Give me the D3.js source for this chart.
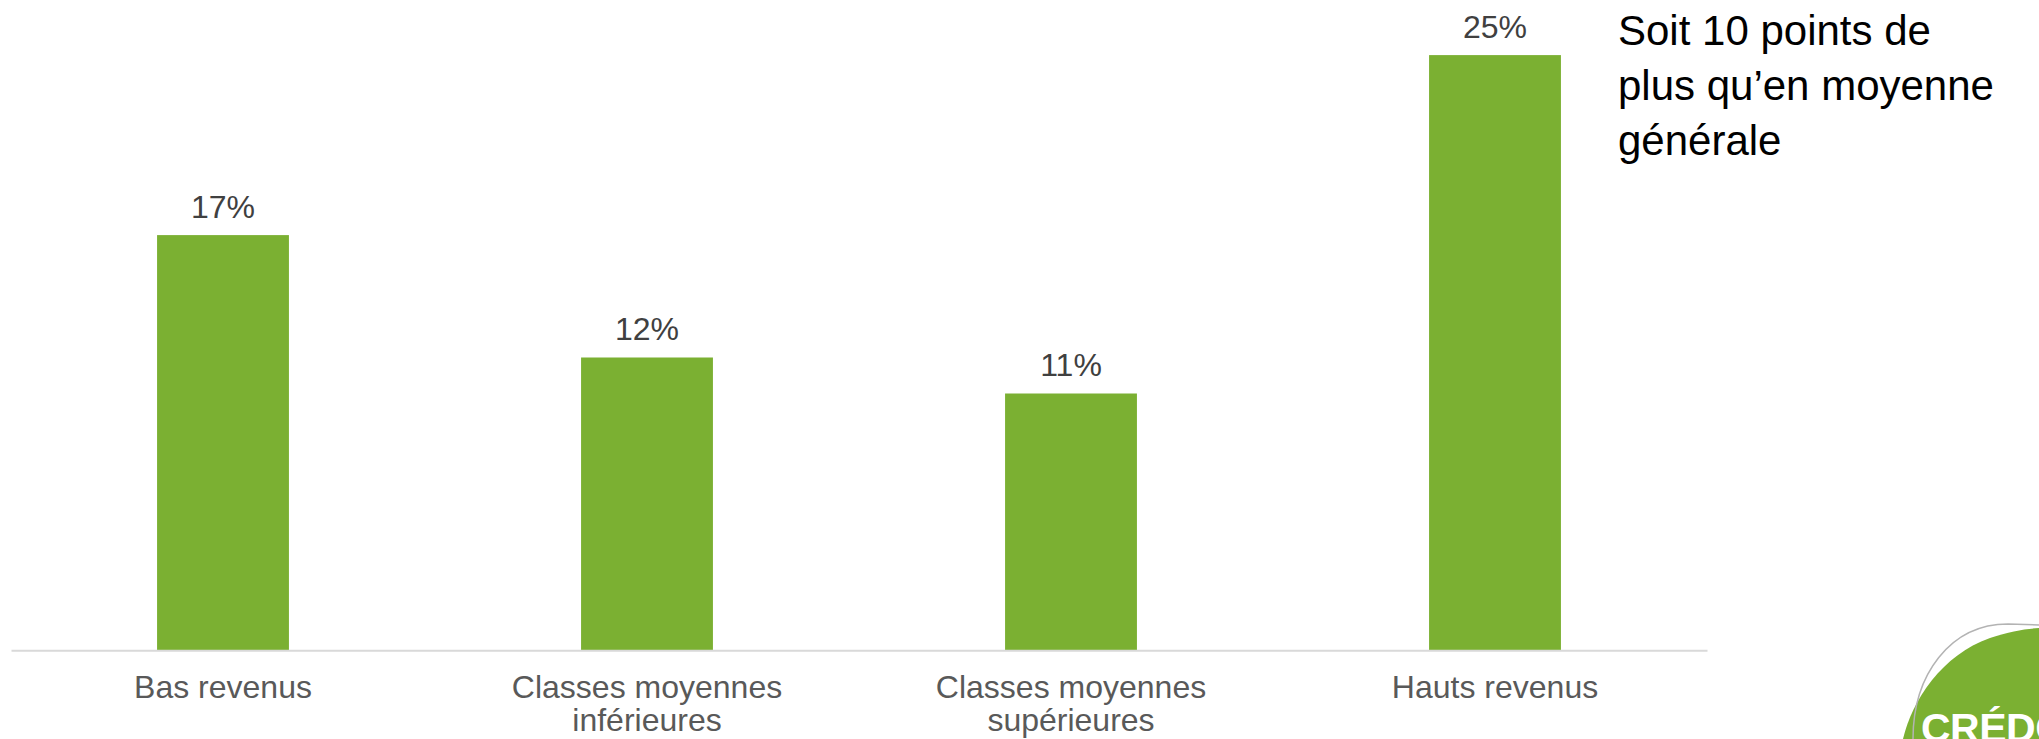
<!DOCTYPE html>
<html lang="fr">
<head>
<meta charset="UTF-8">
<title>Revenus</title>
<script src="https://d3js.org/d3.v7.min.js"></script>
<style>
  body { margin: 0; background: #fff; }
  svg { display: block; }
  text { font-family: "Liberation Sans", Arial, sans-serif; }
  .domain { stroke: #d9d9d9; stroke-width: 2; }
</style>
</head>
<body>
<svg width="2039" height="739"></svg>
<script>
// data
const categories = ["Bas revenus", "Classes moyennes inférieures", "Classes moyennes supérieures", "Hauts revenus"];
const catLines = [["Bas revenus"], ["Classes moyennes", "inférieures"], ["Classes moyennes", "supérieures"], ["Hauts revenus"]];
const values = [17.3, 12.2, 10.7, 24.8];
const valueLabels = ["17%", "12%", "11%", "25%"];
const note = ["Soit 10 points de", "plus qu’en moyenne", "générale"];

var svg = d3.select("svg"),
    width = +svg.attr("width"),
    height = +svg.attr("height");

var baseY = 650.3;

var x = d3.scaleBand()
    .domain(categories)
    .range([11, 1707])
    .paddingInner(0.689)
    .paddingOuter(0.3445);

var y = d3.scaleLinear()
    .domain([0, 25])
    .range([baseY, baseY - 600]);

// bars
svg.append("g")
  .selectAll("rect")
  .data(values)
  .enter().append("rect")
    .attr("x", function(d, i) { return x(categories[i]); })
    .attr("y", function(d) { return y(d); })
    .attr("width", x.bandwidth())
    .attr("height", function(d) { return baseY - y(d); })
    .attr("fill", "#7bb032");

// value labels
svg.append("g")
  .selectAll("text")
  .data(values)
  .enter().append("text")
    .attr("x", function(d, i) { return x(categories[i]) + x.bandwidth() / 2; })
    .attr("y", function(d) { return y(d) - 17.5; })
    .attr("text-anchor", "middle")
    .attr("font-size", 32)
    .attr("fill", "#404040")
    .text(function(d, i) { return valueLabels[i]; });

// x axis, labels wrapped on two lines
var axis = svg.append("g")
    .attr("transform", "translate(0," + baseY + ")")
    .call(d3.axisBottom(x).tickSize(0).tickSizeOuter(0));

axis.selectAll(".tick text").remove();
axis.selectAll(".tick").each(function(d, i) {
  var t = d3.select(this).append("text")
      .attr("text-anchor", "middle")
      .attr("font-size", 32)
      .attr("fill", "#595959")
      .attr("y", 48);
  catLines[i].forEach(function(line, j) {
    t.append("tspan")
      .attr("x", 0)
      .attr("dy", j == 0 ? 0 : 33)
      .text(line);
  });
});

// annotation on the right
var ann = svg.append("text")
    .attr("x", 1618)
    .attr("y", 45)
    .attr("font-size", 42)
    .attr("fill", "#000");
note.forEach(function(line, j) {
  ann.append("tspan")
    .attr("x", 1618)
    .attr("dy", j == 0 ? 0 : 55)
    .text(line);
});

// CREDOC logo, cut by the page corner
var logo = svg.append("g");
logo.append("path")
    .attr("d", "M1903,739 C1912,700 1942,655 1990,638 C2010,631 2025,629 2039,628 L2039,739 Z")
    .attr("fill", "#7bb032");
logo.append("path")
    .attr("d", "M1913,739 C1913,675 1950,624 2008,624 L2039,625")
    .attr("fill", "none")
    .attr("stroke", "#b3b3b3")
    .attr("stroke-width", 1.5);
logo.append("text")
    .attr("x", 1921)
    .attr("y", 742)
    .attr("font-family", "'Open Sans', sans-serif")
    .attr("font-weight", "bold")
    .attr("font-size", 41)
    .attr("letter-spacing", -0.5)
    .attr("fill", "#fff")
    .text("CRÉDOC");
</script>
</body>
</html>
